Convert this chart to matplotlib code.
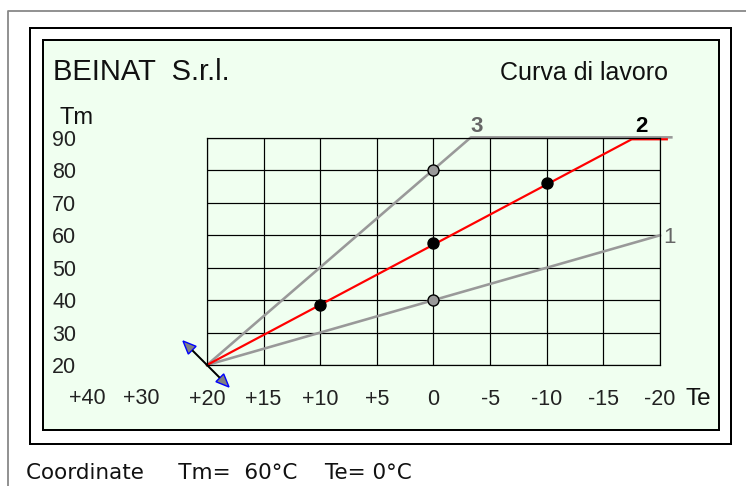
import matplotlib.pyplot as plt
from matplotlib.patches import Rectangle, Polygon
from matplotlib.transforms import ScaledTranslation
import numpy as np

#%% Dati della curva (Te = temperatura esterna, Tm = temperatura mandata)
te_ticks = [20, 15, 10, 5, 0, -5, -10, -15, -20]
te_labels = ['+20', '+15', '+10', '+5', '0', '-5', '-10', '-15', '-20']
te_extra = ['+40', '+30']
tm_ticks = [20, 30, 40, 50, 60, 70, 80, 90]

curve1_te = [20, -20]
curve1_tm = [20, 60]
curve2_te = [20, -17.5, -20.6]
curve2_tm = [20, 89.6, 89.6]
curve3_te = [20, -3.3, -21]
curve3_tm = [20, 90.2, 90.2]

red_pts_te = [10, 0, -10]
red_pts_tm = [38.5, 57.5, 76]
gray_pts_te = [0, 0]
gray_pts_tm = [40, 80]

coord_tm = 60
coord_te = 0

#%% Figura
W, H = 746, 486
fig = plt.figure(figsize=(W / 100, H / 100), dpi=100)
px = 72 / 100  # un pixel in punti

bg = fig.add_axes([0, 0, 1, 1])
bg.set_xlim(0, W)
bg.set_ylim(H, 0)
bg.axis('off')

# cornici
bg.plot([8, 8, W], [H, 11, 11], color='#888888', lw=1.3)
bg.add_patch(Rectangle((30, 28), 701, 416, fill=False, ec='black', lw=2 * px))
bg.add_patch(Rectangle((43, 40), 676, 390, fc='#f0fff0', ec='black', lw=2 * px))

sans = 'Liberation Sans'
bg.text(53, 80, 'BEINAT  S.r.l.', family=sans, fontsize=21, color='#111111')
bg.text(500, 80, 'Curva di lavoro', family=sans, fontsize=18, color='#111111')
bg.text(60, 124, 'Tm', family=sans, fontsize=17, color='#111111')
bg.text(686, 405, 'Te', family=sans, fontsize=17.5, color='#111111')
for lab, x in zip(te_extra, [87, 141]):
    bg.text(x, 398, lab, family=sans, fontsize=15.5, color='#222222',
            ha='center', va='center')
bg.text(26, 479, 'Coordinate     Tm=  %d°C    Te= %d°C' % (coord_tm, coord_te),
        family='DejaVu Sans', fontsize=15.5, color='#111111')

#%% Grafico
ax = fig.add_axes([207 / W, 1 - 365 / H, 453 / W, 227 / H])
ax.set_xlim(20, -20)
ax.set_ylim(20, 90)
ax.patch.set_visible(False)
for s in ax.spines.values():
    s.set_linewidth(1.2 * px)
ax.set_xticks(te_ticks, te_labels)
ax.set_yticks(tm_ticks)
ax.tick_params(length=0, labelsize=15.5, labelcolor='#222222',
               labelfontfamily=sans)
ax.tick_params(axis='x', pad=17)
ax.tick_params(axis='y', pad=94)
ax.grid(True, color='black', lw=1.2 * px)

ax.plot(curve1_te, curve1_tm, color='#999999', lw=2.6 * px, clip_on=False)
ax.plot(curve3_te, curve3_tm, color='#999999', lw=2.6 * px, clip_on=False)
ax.plot(curve2_te, curve2_tm, color='#ff0000', lw=2.2 * px, clip_on=False)
ax.plot(red_pts_te, red_pts_tm, 'o', color='black', ms=11 * px, clip_on=False)
ax.plot(gray_pts_te, gray_pts_tm, 'o', mfc='#999999', mec='black',
        mew=1, ms=11 * px, clip_on=False)

ax.annotate('3', (curve3_te[1], curve3_tm[1]), xytext=(6 * px, 11 * px),
            textcoords='offset points', ha='center', va='center',
            fontsize=16, fontweight='bold', color='#666666', family=sans,
            annotation_clip=False)
ax.annotate('2', (curve2_te[1], curve2_tm[1]), xytext=(10 * px, 13 * px),
            textcoords='offset points', ha='center', va='center',
            fontsize=16, fontweight='bold', color='black', family=sans,
            annotation_clip=False)
ax.annotate('1', (curve1_te[1], curve1_tm[1]), xytext=(10 * px, -2 * px),
            textcoords='offset points', ha='center', va='center',
            fontsize=16, color='#666666', family=sans, annotation_clip=False)

# maniglia a doppia freccia sull'origine della curva
tr = fig.dpi_scale_trans + ScaledTranslation(curve2_te[0], curve2_tm[0], ax.transData)
def punta(tip, d, L=0.13, w=0.055):
    d = np.array(d) / np.hypot(*d)
    base = np.array(tip) - L * d
    perp = np.array([-d[1], d[0]])
    return [tip, base + w * perp, base - w * perp]

tip1, tip2 = (-0.24, 0.24), (0.22, -0.22)
ax.plot([tip1[0] + 0.1, tip2[0] - 0.1], [tip1[1] - 0.1, tip2[1] + 0.1],
        color='black', lw=2 * px, transform=tr, clip_on=False)
for tip, d in [(tip1, (-1, 1)), (tip2, (1, -1))]:
    ax.add_patch(Polygon(punta(tip, d), closed=True, fc='#808080', ec='blue',
                         lw=1, transform=tr, clip_on=False))

fig.savefig('out.png', dpi=100)
